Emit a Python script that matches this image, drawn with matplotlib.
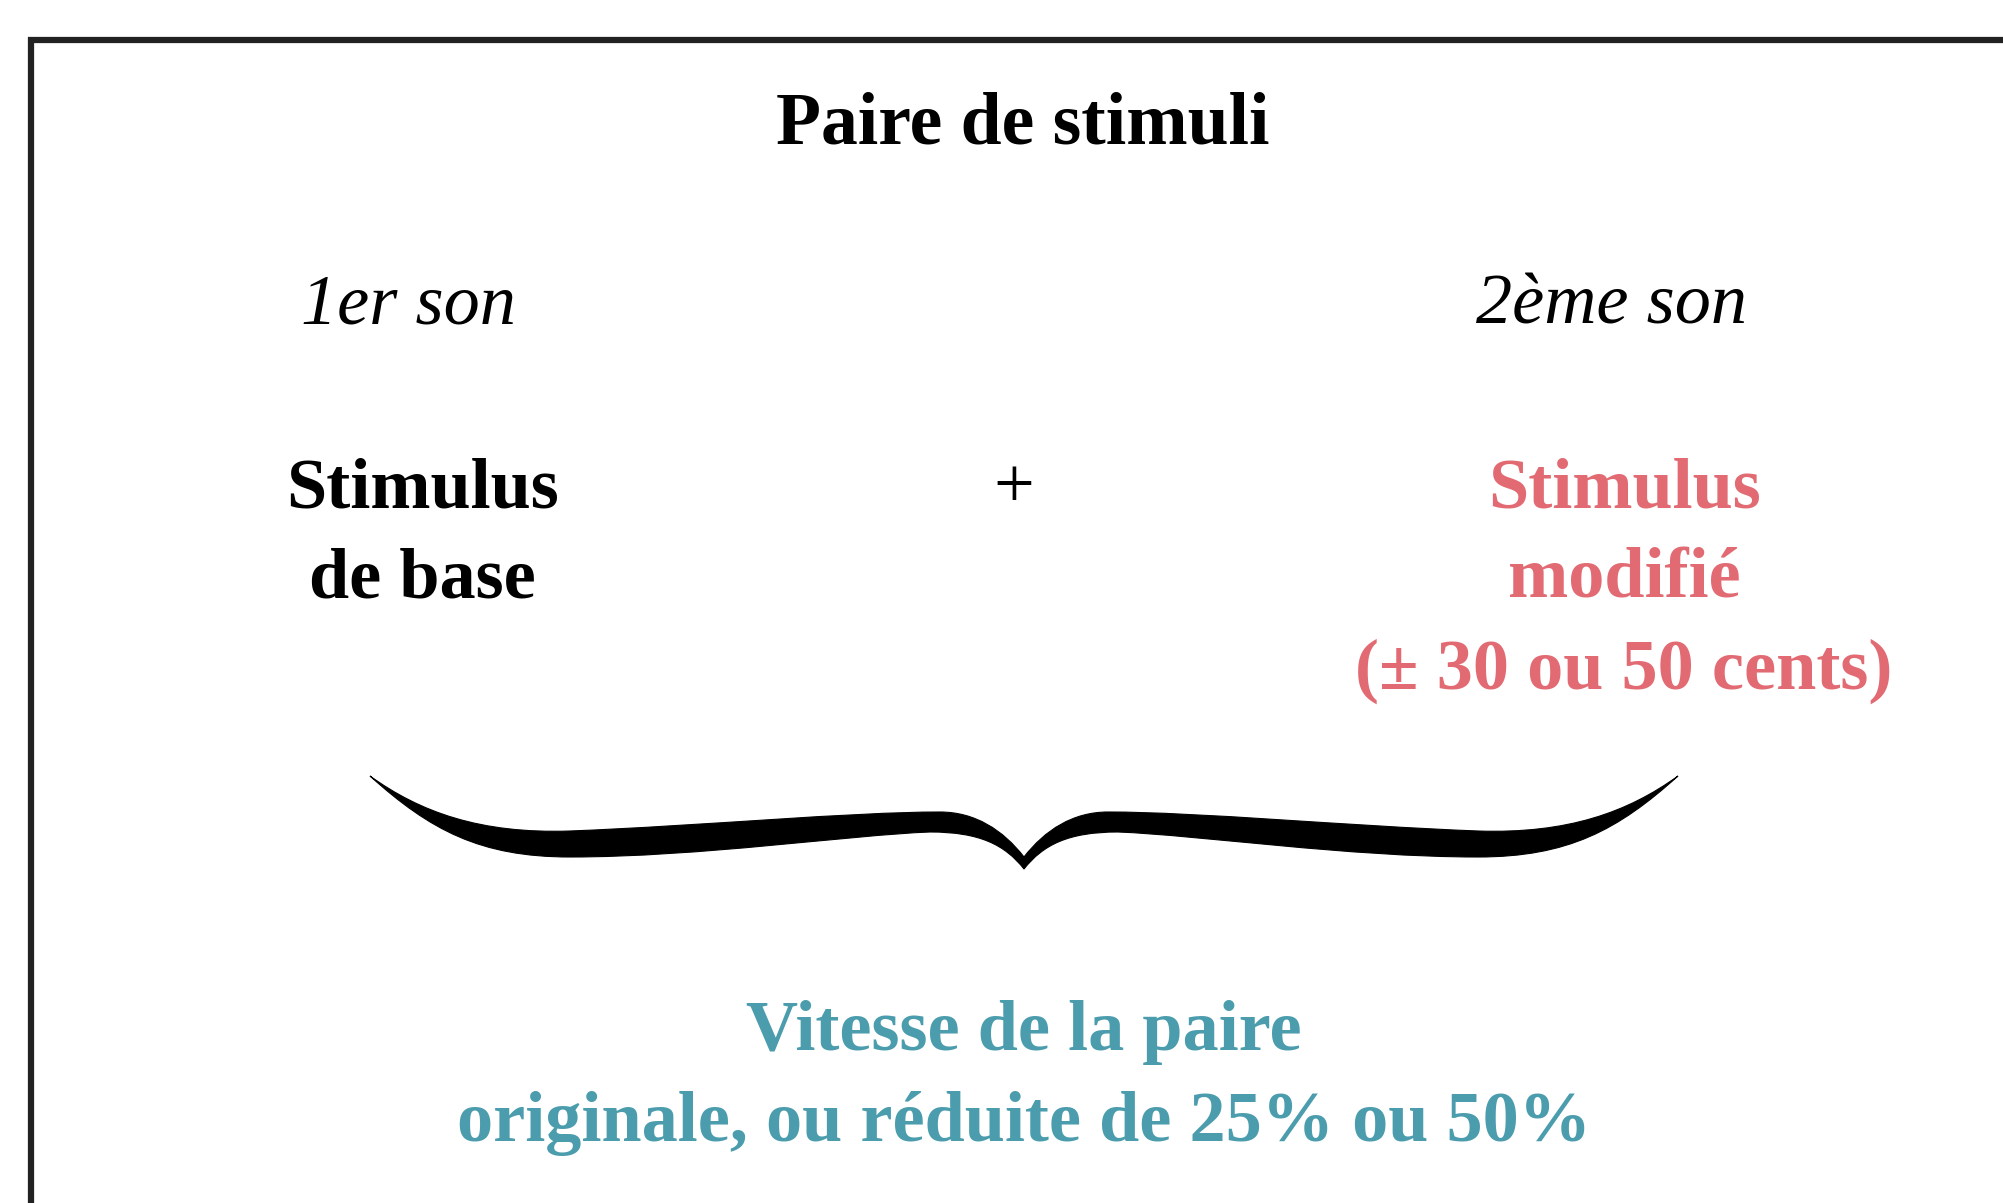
import numpy as np
import matplotlib.pyplot as plt
from matplotlib.path import Path
from matplotlib.patches import PathPatch

plt.rcParams['font.family'] = ['Liberation Serif', 'DejaVu Serif']

W, H = 2003, 1203

# texts of the diagram
title = "Paire de stimuli"
sound_labels = ["1er son", "2ème son"]
base_lines = ["Stimulus", "de base"]
modified_lines = ["Stimulus", "modifié", "(± 30 ou 50 cents)"]
speed_lines = ["Vitesse de la paire", "originale, ou réduite de 25% ou 50%"]

red = "#E26B73"
teal = "#4B9DAD"

fig = plt.figure(figsize=(W / 100, H / 100), dpi=100)
ax = fig.add_axes([0, 0, 1, 1])
ax.set_xlim(0, W)
ax.set_ylim(H, 0)
ax.axis("off")

# frame (runs off the right and bottom edges)
ax.plot([31, 31, W + 10], [H + 10, 40, 40], color="#222222", lw=4.5,
        solid_joinstyle="miter", solid_capstyle="butt")

fs = 52
ax.text(1023, 144, title, ha="center", va="baseline", fontsize=fs + 1, fontweight="bold")

ax.text(408, 323, sound_labels[0], ha="center", va="baseline", fontsize=fs, fontstyle="italic")
ax.text(1612, 323, sound_labels[1], ha="center", va="baseline", fontsize=fs, fontstyle="italic")

line_gap = 91
for i, s in enumerate(base_lines):
    ax.text(422, 507 + i * line_gap, s, ha="center", va="baseline", fontsize=fs, fontweight="bold")

ax.text(1014, 507, "+", ha="center", va="baseline", fontsize=fs)

for i, s in enumerate(modified_lines):
    ax.text(1624, 507 + i * line_gap, s, ha="center", va="baseline", fontsize=fs,
            fontweight="bold", color=red)

for i, s in enumerate(speed_lines):
    ax.text(1024, 1050 + i * 91, s, ha="center", va="baseline", fontsize=fs,
            fontweight="bold", color=teal)

# curly brace: left half, mirrored for the right half
cx = 1024
lower = [(370, 776), (430, 830), (480, 857), (570, 857),
         (700, 857), (850, 835), (930, 832),
         (980, 832), (1005, 845), (cx, 869)]
upper = [(cx, 857), (1003, 830), (975, 812), (940, 812),
         (850, 812), (700, 826), (570, 831),
         (480, 834), (420, 812), (370, 776)]


def half_path(flip):
    pts = lower + upper
    if flip:
        pts = [(2 * cx - x, y) for x, y in pts]
    codes = [Path.MOVETO] + [Path.CURVE4] * 9 + [Path.LINETO] + [Path.CURVE4] * 9
    return Path(pts + [pts[0]], codes + [Path.CLOSEPOLY])


for flip in (False, True):
    ax.add_patch(PathPatch(half_path(flip), facecolor="black", edgecolor="black", lw=0.8))

fig.savefig("out.png", dpi=100, facecolor="white")
